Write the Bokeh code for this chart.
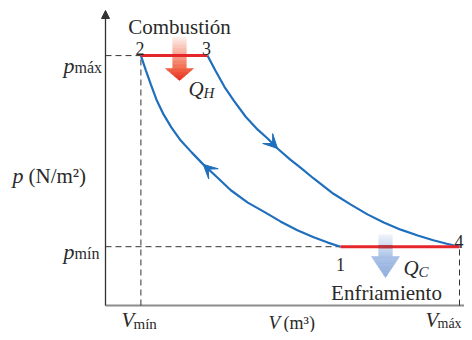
from bokeh.plotting import figure
from bokeh.models import Range1d, Label, Arrow, NormalHead, VeeHead
from bokeh.embed import file_html
from bokeh.resources import INLINE

# ---------------- data (arbitrary units) ----------------
V_MIN, V_MAX = 0.50, 5.00
P_MIN, P_MAX = 1.00, 4.25
state_names = ["1", "2", "3", "4"]
state_V = [3.32, 0.50, 1.44, 5.00]
state_p = [1.00, 4.25, 4.25, 1.00]

# adiabatic compression 1 -> 2 (listed from 2 to 1)
V_21 = [0.50, 0.57, 0.64, 0.72, 0.82, 0.93, 1.06, 1.22, 1.38, 1.55, 1.77, 2.01,
        2.26, 2.47, 2.71, 2.94, 3.14, 3.32]
p_21 = [4.25, 4.00, 3.76, 3.50, 3.25, 3.03, 2.81, 2.60, 2.40, 2.21, 1.96, 1.75,
        1.58, 1.43, 1.28, 1.16, 1.07, 1.00]
# adiabatic expansion 3 -> 4
V_34 = [1.44, 1.55, 1.68, 1.81, 1.98, 2.15, 2.29, 2.43, 2.61, 2.75, 2.94, 3.22,
        3.46, 3.70, 3.93, 4.17, 4.41, 4.63, 4.82, 5.00]
p_34 = [4.25, 4.00, 3.72, 3.49, 3.21, 2.99, 2.84, 2.67, 2.48, 2.35, 2.16, 1.90,
        1.72, 1.55, 1.41, 1.29, 1.19, 1.11, 1.05, 1.00]

# ---------------- layout ----------------
W, H = 464, 332
SX, SY = 70.8, 58.8          # px per unit
OX, OY = 105, 305            # origin position inside canvas
x0 = -OX / SX
x1 = x0 + W / SX
y1 = OY / SY
y0 = y1 - H / SY


def px(xp):  # pixel -> data x
    return x0 + xp / SX


def py(yp):  # pixel -> data y
    return y1 - yp / SY


BLUE = "#1f6fbd"
RED = "#e5262b"
TXT = "#2a2a2a"
FONT = "Liberation Serif"

p = figure(width=W, height=H, x_range=Range1d(x0, x1), y_range=Range1d(y0, y1),
           output_backend="svg", toolbar_location=None,
           x_axis_location=None, y_axis_location=None, min_border=0)
p.grid.visible = False
p.outline_line_color = None
p.background_fill_color = "white"
p.border_fill_color = "white"

# axes
p.segment(x0=[0], y0=[0], x1=[x1], y1=[0], line_color="#8c8c8c", line_width=2.2)
p.add_layout(Arrow(end=NormalHead(size=8, fill_color="#333333", line_color="#333333"),
                   x_start=0, y_start=0, x_end=0, y_end=py(10),
                   line_color="#333333", line_width=1.3))

# dashed guide lines
p.segment(x0=[0, 0, V_MIN, V_MAX], y0=[P_MAX, P_MIN, 0, 0],
          x1=[V_MIN, state_V[0], V_MIN, V_MAX], y1=[P_MAX, P_MIN, P_MAX, P_MIN],
          line_color="#333333", line_width=1, line_dash="6 4")


def shade(c0, c1, t):
    return "#%02x%02x%02x" % tuple(int(round(a + (b - a) * t)) for a, b in zip(c0, c1))


def heat_arrow(cx, y_top, y_neck, y_tip, shaft_hw, head_hw, c_top, c_neck, c_head0, c_head1):
    n = 24
    tops, bots, cols = [], [], []
    for i in range(n):
        ya = y_top + (y_neck - y_top) * i / n
        yb = y_top + (y_neck - y_top) * (i + 1) / n
        tops.append(py(ya))
        bots.append(py(yb + 0.6))
        cols.append(shade(c_top, c_neck, i / (n - 1)))
    p.quad(left=px(cx - shaft_hw), right=px(cx + shaft_hw), top=tops, bottom=bots,
           fill_color=cols, line_color=None)
    k = 8
    xs, ys, hc = [], [], []
    L = y_tip - y_neck
    for i in range(k):
        ya = y_neck + L * i / k
        yb = y_neck + L * (i + 1) / k
        wa = head_hw * (1 - (ya - y_neck) / L)
        wb = head_hw * (1 - (yb - y_neck) / L)
        xs.append([px(cx - wa), px(cx + wa), px(cx + wb), px(cx - wb)])
        ys.append([py(ya), py(ya), py(yb), py(yb)])
        hc.append(shade(c_head0, c_head1, i / (k - 1)))
    p.patches(xs, ys, fill_color=hc, line_color=hc, line_width=0.6)


# heat flow arrows
heat_arrow(179, 36, 68, 80, 7, 14, (253, 240, 236), (241, 108, 78), (240, 100, 70), (230, 48, 32))
heat_arrow(385, 234, 256, 277, 7, 14, (238, 243, 250), (176, 198, 232), (168, 192, 230), (146, 176, 222))

# process lines
p.line(V_21, p_21, line_color=BLUE, line_width=2.2)
p.line(V_34, p_34, line_color=BLUE, line_width=2.2)
p.line([state_V[1], state_V[2]], [P_MAX, P_MAX], line_color=RED, line_width=3)
p.line([state_V[0], state_V[3]], [P_MIN, P_MIN], line_color=RED, line_width=3)
p.segment(x0=[px(378)], y0=[P_MIN], x1=[px(392)], y1=[P_MIN], line_color="#b8323c", line_width=3)

# direction arrows on curves
p.add_layout(Arrow(end=VeeHead(size=14, fill_color=BLUE, line_color=BLUE, line_width=1),
                   x_start=V_34[6], y_start=p_34[6], x_end=V_34[7], y_end=p_34[7],
                   line_alpha=0))
p.add_layout(Arrow(end=VeeHead(size=14, fill_color=BLUE, line_color=BLUE, line_width=1),
                   x_start=V_21[9], y_start=p_21[9], x_end=V_21[8], y_end=p_21[8],
                   line_alpha=0))


def lab(text, xp, yp, size, align="left", italic=False):
    p.add_layout(Label(x=px(xp), y=py(yp), text=text, text_font=FONT,
                       text_font_size=f"{size}px",
                       text_font_style="italic" if italic else "normal",
                       text_align=align, text_baseline="alphabetic", text_color=TXT))


def lab_data(text, xd, yd, dx, dy, size, align):
    p.add_layout(Label(x=xd + dx / SX, y=yd - dy / SY, text=text, text_font=FONT,
                       text_font_size=f"{size}px", text_align=align,
                       text_baseline="alphabetic", text_color=TXT))


# state labels
state_off = [(0, 18, "center"), (-1, -7, "center"), (-1, -7, "center"), (4, -5, "right")]
for name, vv, pp, (dx, dy, al) in zip(state_names, state_V, state_p, state_off):
    lab_data(name, vv, pp, dx, dy, 18, al)

lab("Combustión", 179, 26, 21, "center")
lab("Q", 188, 88, 21, italic=True)
lab("H", 203, 92, 15, italic=True)
lab("Q", 403, 267, 21, italic=True)
lab("C", 418, 271, 15, italic=True)
lab("Enfriamiento", 386, 292, 21, "center")

# axis annotations
lab("p", 74, 65, 22, "right", italic=True)
lab("máx", 74, 67, 16)
lab("p", 74, 251, 22, "right", italic=True)
lab("mín", 74, 253, 16)
lab("p", 12, 175, 22, italic=True)
lab("(N/m²)", 28, 175, 21)
lab("V", 121, 319, 21, italic=True)
lab("mín", 133, 323, 15)
lab("V", 425, 319, 21, italic=True)
lab("máx", 437, 323, 14)
lab("V", 268, 322, 19, italic=True)
lab("(m³)", 283, 322, 18)

open("out.html", "w").write(file_html(p, INLINE))
